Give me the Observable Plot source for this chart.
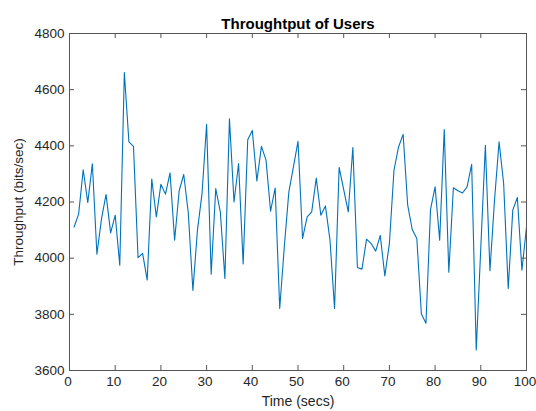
<!DOCTYPE html>
<html><head><meta charset="utf-8">
<script src="https://cdn.jsdelivr.net/npm/d3@7"></script>
<script src="https://cdn.jsdelivr.net/npm/@observablehq/plot@0.6"></script>
<style>
body{margin:0;background:#fff}
#chart svg{font-family:"Liberation Sans",Arial,Helvetica,sans-serif;background:#fff}
</style>
</head><body><div id="chart"></div>
<script>
const title = "Throughtput of Users";
const xLabel = "Time (secs)";
const yLabel = "Throughput (bits/sec)";
const time = [1,2,3,4,5,6,7,8,9,10,11,12,13,14,15,16,17,18,19,20,21,22,23,24,25,26,27,28,29,30,31,32,33,34,35,36,37,38,39,40,41,42,43,44,45,46,47,48,49,50,51,52,53,54,55,56,57,58,59,60,61,62,63,64,65,66,67,68,69,70,71,72,73,74,75,76,77,78,79,80,81,82,83,84,85,86,87,88,89,90,91,92,93,94,95,96,97,98,99,100];
const throughput = [4111,4157,4315,4198,4336,4014,4140,4227,4090,4153,3975,4661,4414,4398,4002,4017,3922,4282,4147,4263,4228,4304,4064,4240,4298,4160,3885,4100,4230,4477,3943,4248,4165,3928,4496,4200,4337,3979,4422,4455,4275,4398,4349,4167,4250,3821,4040,4236,4325,4416,4070,4147,4165,4285,4153,4186,4064,3821,4323,4244,4165,4394,3967,3961,4068,4052,4025,4081,3937,4052,4313,4396,4441,4189,4102,4070,3801,3768,4174,4254,4064,4458,3950,4251,4240,4232,4254,4334,3673,4038,4402,3955,4206,4414,4266,3892,4171,4216,3957,4111];
const xTicks = [0,10,20,30,40,50,60,70,80,90,100];
const yTicks = [3600,3800,4000,4200,4400,4600,4800];

const data = time.map((t, i) => ({t, v: throughput[i]}));
const W = 536, H = 411, mL = 69, mR = 10, mT = 33, mB = 41;
const innerW = W - mL - mR, innerH = H - mT - mB;
const axisColor = "#262626";
const tickLen = 5;

const chart = Plot.plot({
  width: W, height: H,
  marginLeft: mL, marginRight: mR, marginTop: mT, marginBottom: mB,
  style: {background: "#fff", color: axisColor},
  x: {domain: [0, 100]},
  y: {domain: [3600, 4800]},
  marks: [
    Plot.line(data, {x: "t", y: "v", stroke: "#0072BD", strokeWidth: 1.1}),
    Plot.frame({stroke: "#555", strokeWidth: 1}),
    Plot.tickX(xTicks, {x: d => d, insetTop: innerH - tickLen, stroke: "#555"}),
    Plot.tickX(xTicks, {x: d => d, insetBottom: innerH - tickLen, stroke: "#555"}),
    Plot.tickY(yTicks, {y: d => d, insetRight: innerW - tickLen, stroke: "#555"}),
    Plot.tickY(yTicks, {y: d => d, insetLeft: innerW - tickLen, stroke: "#555"}),
    Plot.axisX({ticks: xTicks, tickFormat: d3.format("d"), tickSize: 0, tickPadding: 6, fontSize: 13.5, dx: -1.5, fill: axisColor,
      label: null}),
    Plot.axisX({ticks: [], tickSize: 0, fontSize: 14, fill: axisColor,
      label: xLabel, labelAnchor: "center", labelOffset: 35, labelArrow: "none"}),
    Plot.axisY({ticks: yTicks, tickFormat: d3.format("d"), tickSize: 0, tickPadding: 5, fontSize: 13.5, fill: axisColor,
      label: yLabel, labelAnchor: "center", labelOffset: 56, labelArrow: "none"}),
    Plot.text([title], {text: d => d, frameAnchor: "top", dy: -15, fontSize: 15, fontWeight: "bold", fill: "#000"})
  ]
});
document.getElementById("chart").appendChild(chart);
</script>
</body></html>
